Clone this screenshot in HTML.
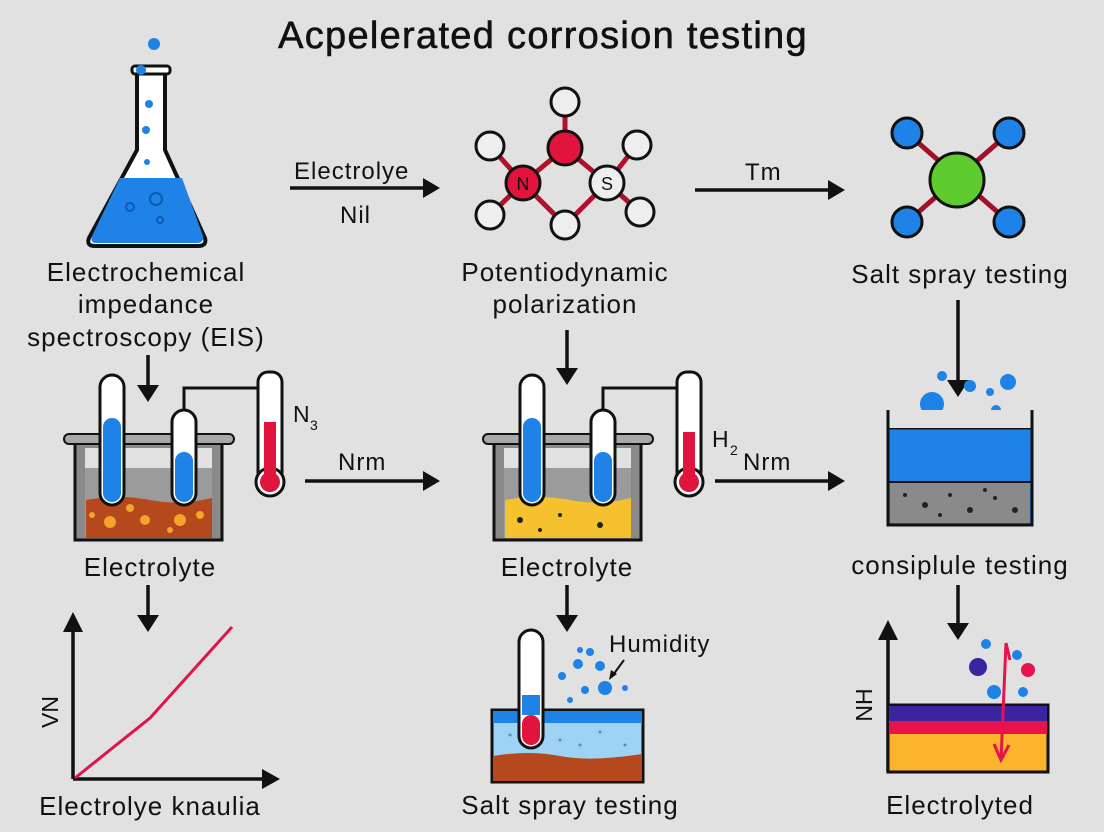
<!DOCTYPE html>
<html><head><style>
html,body{margin:0;padding:0;background:#e1e1e1;}
svg{display:block;}
text{font-family:"Liberation Sans",sans-serif;fill:#111;}
.lb{letter-spacing:1px;}
</style></head><body>
<svg width="1104" height="832" viewBox="0 0 1104 832" xmlns="http://www.w3.org/2000/svg">
<rect width="1104" height="832" fill="#e1e1e1"/>
<text x="543" y="48" font-size="38" text-anchor="middle" fill="#111" letter-spacing="1.3" stroke="#111" stroke-width="0.6">Acpelerated corrosion testing</text>

<!-- flask -->
<path d="M137,72 L165,72 L165,150 L205,238 Q207,246 198,246 L95,246 Q86,246 89,238 L137,150 Z" fill="#fff" stroke="#111" stroke-width="4"/>
<path d="M120,178 L182,178 L203,236 Q204,243 197,243 L96,243 Q90,243 92,236 Z" fill="#1e82e6"/>
<rect x="132" y="66" width="38" height="8" rx="3" fill="#fff" stroke="#111" stroke-width="3"/>
<g fill="#1e82e6"><circle cx="154" cy="44" r="6"/><circle cx="141" cy="70" r="5"/><circle cx="149" cy="104" r="4"/><circle cx="146" cy="130" r="4"/><circle cx="147" cy="162" r="3"/></g>
<g fill="none" stroke="#0d5bb0" stroke-width="2"><circle cx="156" cy="199" r="6"/><circle cx="130" cy="207" r="4"/><circle cx="160" cy="220" r="3"/></g>
<g font-size="26" text-anchor="middle" class="lb"><text x="146" y="281">Electrochemical</text><text x="146" y="313">impedance</text><text x="146" y="346">spectroscopy (EIS)</text></g>

<!-- arrows -->
<g stroke="#111" stroke-width="3.5">
<line x1="290" y1="188" x2="425" y2="188"/><line x1="695" y1="190" x2="830" y2="190"/>
<line x1="305" y1="481" x2="425" y2="481"/><line x1="715" y1="481" x2="830" y2="481"/>
<line x1="148" y1="355" x2="148" y2="390"/><line x1="567" y1="330" x2="567" y2="373"/><line x1="958" y1="300" x2="958" y2="385"/>
<line x1="148" y1="585" x2="148" y2="620"/><line x1="567" y1="585" x2="567" y2="620"/><line x1="958" y1="585" x2="958" y2="628"/>
</g>
<g fill="#111">
<path d="M423,178 L440,188 L423,198Z"/><path d="M828,180 L845,190 L828,200Z"/>
<path d="M423,471 L440,481 L423,491Z"/><path d="M828,471 L845,481 L828,491Z"/>
<path d="M137,385 L159,385 L148,402Z"/><path d="M556,368 L578,368 L567,385Z"/><path d="M947,380 L969,380 L958,397Z"/>
<path d="M137,615 L159,615 L148,632Z"/><path d="M556,615 L578,615 L567,632Z"/><path d="M947,623 L969,623 L958,640Z"/>
</g>
<g font-size="24" class="lb"><text x="294" y="179">Electrolye</text><text x="340" y="223">Nil</text><text x="745" y="180">Tm</text><text x="338" y="470">Nrm</text><text x="743" y="470">Nrm</text></g>

<!-- molecule 1 -->
<g stroke="#b0102a" stroke-width="5">
<line x1="565" y1="148" x2="565" y2="102"/><line x1="565" y1="148" x2="523" y2="183"/><line x1="565" y1="148" x2="607" y2="183"/>
<line x1="523" y1="183" x2="490" y2="146"/><line x1="523" y1="183" x2="490" y2="215"/><line x1="523" y1="183" x2="565" y2="225"/>
<line x1="607" y1="183" x2="637" y2="145"/><line x1="607" y1="183" x2="640" y2="212"/><line x1="607" y1="183" x2="565" y2="225"/>
</g>
<g stroke="#111" stroke-width="3" fill="#eee">
<circle cx="565" cy="102" r="14"/><circle cx="490" cy="146" r="14"/><circle cx="637" cy="145" r="14"/><circle cx="490" cy="215" r="14"/><circle cx="565" cy="225" r="14"/><circle cx="640" cy="212" r="14"/>
<circle cx="607" cy="183" r="17"/>
<circle cx="565" cy="148" r="17" fill="#e0143c"/><circle cx="523" cy="183" r="17" fill="#e0143c"/>
</g>
<text x="523" y="190" font-size="18" text-anchor="middle">N</text><text x="607" y="190" font-size="18" text-anchor="middle">S</text>
<g font-size="26" text-anchor="middle" class="lb"><text x="565" y="281">Potentiodynamic</text><text x="565" y="313">polarization</text></g>

<!-- molecule 2 -->
<g stroke="#a0102a" stroke-width="5"><line x1="907" y1="133" x2="1009" y2="222"/><line x1="1009" y1="133" x2="907" y2="222"/></g>
<g stroke="#111" stroke-width="3"><circle cx="907" cy="133" r="15" fill="#1e82e6"/><circle cx="1009" cy="133" r="15" fill="#1e82e6"/><circle cx="907" cy="222" r="15" fill="#1e82e6"/><circle cx="1009" cy="222" r="15" fill="#1e82e6"/><circle cx="957" cy="180" r="27" fill="#5ecb2e"/></g>
<text x="960" y="283" font-size="26" text-anchor="middle" class="lb">Salt spray testing</text>

<!-- left beaker -->
<g id="bk">
<rect x="75" y="440" width="147" height="100" fill="#8a8a8a" stroke="#111" stroke-width="3"/>
<rect x="85" y="448" width="127" height="20" fill="#e1e1e1"/>
<rect x="85" y="468" width="127" height="70" fill="#9b9b9b"/>
<rect x="64" y="434" width="170" height="10" rx="5" fill="#a8a8a8" stroke="#111" stroke-width="2"/>
</g>
<path d="M86,500 Q120,494 150,500 T212,498 L212,538 L86,538Z" fill="#b5481c"/>
<g fill="#f3a42a"><circle cx="110" cy="522" r="6"/><circle cx="145" cy="520" r="5"/><circle cx="180" cy="520" r="6"/><circle cx="200" cy="515" r="4"/><circle cx="92" cy="515" r="3"/><circle cx="130" cy="508" r="4"/><circle cx="170" cy="530" r="3"/></g>
<rect x="100" y="375" width="24" height="130" rx="12" fill="#fff" stroke="#111" stroke-width="3"/><rect x="103" y="418" width="18" height="84" rx="9" fill="#1e82e6"/>
<rect x="172" y="410" width="24" height="95" rx="12" fill="#fff" stroke="#111" stroke-width="3"/><rect x="175" y="452" width="18" height="50" rx="9" fill="#1e82e6"/>
<path d="M184,410 V388 H260" fill="none" stroke="#111" stroke-width="3"/>
<rect x="258" y="372" width="24" height="110" rx="10" fill="#fff" stroke="#111" stroke-width="3"/><circle cx="270" cy="482" r="14" fill="#fff" stroke="#111" stroke-width="3"/>
<rect x="264" y="422" width="12" height="60" fill="#e0143c"/><circle cx="270" cy="482" r="10" fill="#e0143c"/>
<text x="293" y="422" font-size="23">N</text><text x="310" y="430" font-size="14">3</text>

<!-- middle beaker -->
<use href="#bk" x="419"/>
<path d="M505,500 Q540,494 570,500 T631,498 L631,538 L505,538Z" fill="#f5c12e"/>
<g fill="#222"><circle cx="520" cy="520" r="3"/><circle cx="560" cy="515" r="2"/><circle cx="600" cy="525" r="3"/><circle cx="540" cy="530" r="2"/></g>
<rect x="520" y="375" width="24" height="130" rx="12" fill="#fff" stroke="#111" stroke-width="3"/><rect x="523" y="418" width="18" height="84" rx="9" fill="#1e82e6"/>
<rect x="591" y="410" width="24" height="95" rx="12" fill="#fff" stroke="#111" stroke-width="3"/><rect x="594" y="452" width="18" height="50" rx="9" fill="#1e82e6"/>
<path d="M603,410 V388 H679" fill="none" stroke="#111" stroke-width="3"/>
<rect x="677" y="372" width="24" height="110" rx="10" fill="#fff" stroke="#111" stroke-width="3"/><circle cx="689" cy="482" r="14" fill="#fff" stroke="#111" stroke-width="3"/>
<rect x="683" y="432" width="12" height="50" fill="#e0143c"/><circle cx="689" cy="482" r="10" fill="#e0143c"/>
<text x="712" y="447" font-size="23">H</text><text x="730" y="455" font-size="14">2</text>

<!-- right container -->
<g fill="#1e82e6"><circle cx="932" cy="404" r="12"/><circle cx="942" cy="376" r="5"/><circle cx="970" cy="386" r="6"/><circle cx="990" cy="392" r="4"/><circle cx="1008" cy="382" r="8"/><circle cx="996" cy="410" r="5"/><circle cx="985" cy="415" r="4"/></g>
<rect x="888" y="428" width="144" height="97" fill="#1e82e6" stroke="#111" stroke-width="3"/>
<rect x="890" y="482" width="140" height="41" fill="#8a8a8a"/>
<line x1="888" y1="482" x2="1032" y2="482" stroke="#111" stroke-width="2"/>
<g fill="#222"><circle cx="905" cy="495" r="2"/><circle cx="925" cy="505" r="3"/><circle cx="950" cy="495" r="2"/><circle cx="970" cy="510" r="3"/><circle cx="995" cy="498" r="2"/><circle cx="1015" cy="510" r="3"/><circle cx="940" cy="515" r="2"/><circle cx="985" cy="490" r="2"/></g>
<rect x="888" y="410" width="144" height="18" fill="#e1e1e1"/>
<path d="M888,410 V525 H1032 V410" fill="none" stroke="#111" stroke-width="3"/>

<g font-size="26" text-anchor="middle" class="lb"><text x="150" y="576">Electrolyte</text><text x="567" y="576">Electrolyte</text><text x="960" y="574">consiplule testing</text></g>

<!-- graph -->
<g stroke="#111" stroke-width="3.5"><line x1="73" y1="779" x2="73" y2="630"/><line x1="73" y1="779" x2="265" y2="779"/></g>
<path d="M63,632 L73,612 L83,632Z M262,769 L280,779 L262,789Z" fill="#111"/>
<polyline points="75,778 150,718 232,627" fill="none" stroke="#e0144c" stroke-width="3"/>
<text transform="translate(58,712) rotate(-90)" font-size="23" text-anchor="middle">VN</text>
<text x="150" y="815" font-size="26" text-anchor="middle" class="lb">Electrolye knaulia</text>

<!-- middle bottom -->
<rect x="492" y="710" width="151" height="72" fill="#9fd3f5" stroke="#111" stroke-width="3"/>
<rect x="493" y="711" width="149" height="12" fill="#1e82e6"/>
<path d="M493,756 Q530,750 560,756 T642,754 L642,781 L493,781Z" fill="#b5481c"/>
<g fill="#4a90c8"><circle cx="510" cy="735" r="1.5"/><circle cx="560" cy="740" r="1.5"/><circle cx="600" cy="732" r="1.5"/><circle cx="625" cy="745" r="1.5"/><circle cx="580" cy="745" r="1.5"/></g>
<rect x="519" y="630" width="24" height="118" rx="12" fill="#fff" stroke="#111" stroke-width="3"/><rect x="522" y="695" width="18" height="20" fill="#1e82e6"/><rect x="522" y="715" width="18" height="30" rx="9" fill="#e0143c"/>
<g fill="#1e82e6"><circle cx="562" cy="676" r="4"/><circle cx="578" cy="664" r="5"/><circle cx="590" cy="652" r="4"/><circle cx="605" cy="688" r="7"/><circle cx="585" cy="690" r="4"/><circle cx="600" cy="666" r="5"/><circle cx="570" cy="700" r="3"/><circle cx="625" cy="688" r="3"/><circle cx="580" cy="650" r="3"/></g>
<text x="609" y="652" font-size="24" class="lb">Humidity</text>
<path d="M624,660 L613,675" stroke="#111" stroke-width="2"/><path d="M609,680 L611,670 L617,674Z" fill="#111"/>
<text x="570" y="814" font-size="26" text-anchor="middle" class="lb">Salt spray testing</text>

<!-- right bottom -->
<line x1="888" y1="772" x2="888" y2="635" stroke="#111" stroke-width="3.5"/><path d="M878,640 L888,620 L898,640Z" fill="#111"/>
<text transform="translate(872,705) rotate(-90)" font-size="23" text-anchor="middle">NH</text>
<rect x="888" y="705" width="160" height="67" fill="#fbb42c" stroke="#111" stroke-width="3"/>
<rect x="889" y="706" width="158" height="15" fill="#3a24a0"/><rect x="889" y="721" width="158" height="13" fill="#e8134c"/>
<g fill="#1e82e6"><circle cx="986" cy="644" r="5"/><circle cx="1017" cy="655" r="5"/><circle cx="994" cy="692" r="7"/><circle cx="1023" cy="692" r="5"/></g>
<circle cx="978" cy="667" r="9" fill="#3a24a0"/><circle cx="1028" cy="670" r="7" fill="#e8134c"/>
<path d="M1006,643 L1001,760 M1006,643 L1010,660 M994,744 L1001,760 L1009,745" fill="none" stroke="#e8134c" stroke-width="3"/>
<text x="960" y="814" font-size="26" text-anchor="middle" class="lb">Electrolyted</text>
</svg>
</body></html>
